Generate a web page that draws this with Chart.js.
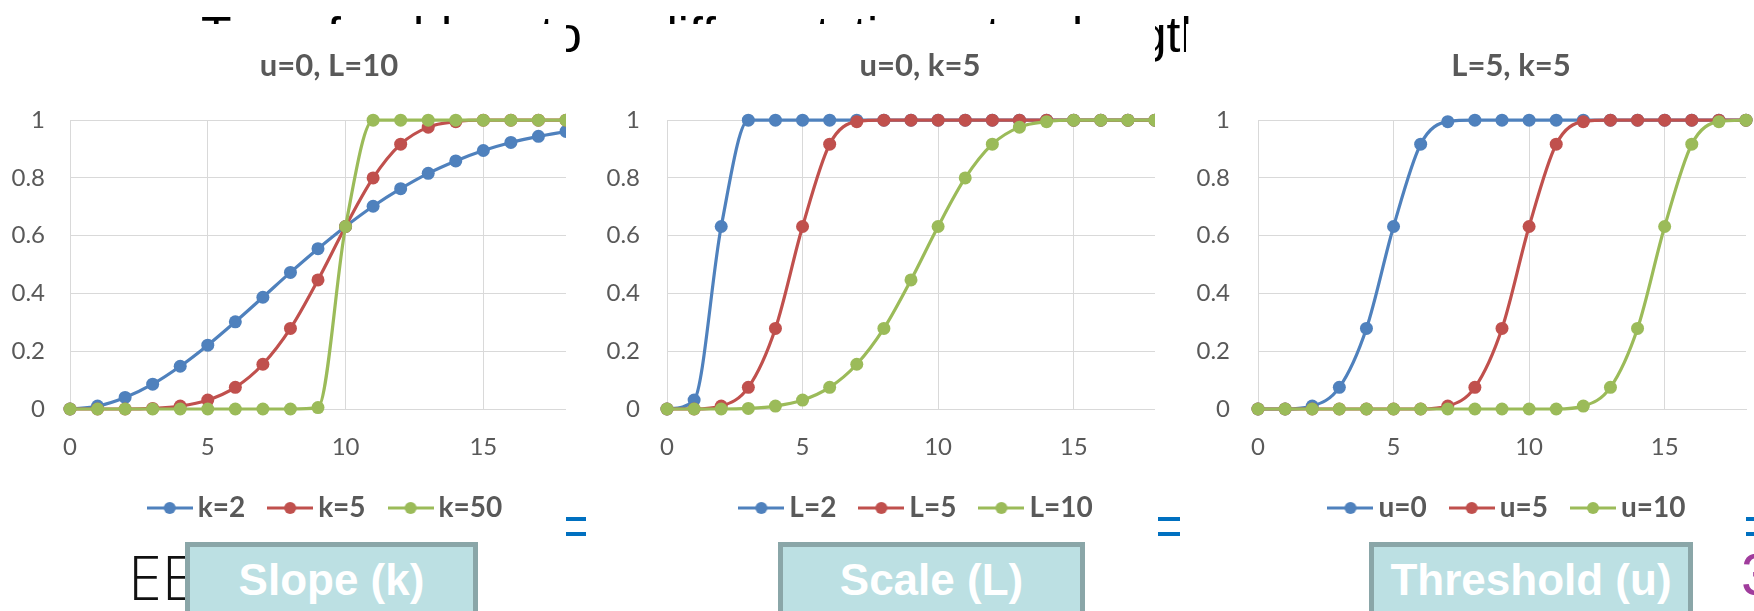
<!DOCTYPE html>
<html>
<head>
<meta charset="utf-8">
<script src="https://cdn.jsdelivr.net/npm/chart.js@4/dist/chart.umd.min.js"></script>
<style>
body { margin:0; width:1754px; height:611px; overflow:hidden; background:#fff; position:relative; font-family:"Liberation Sans", Arial, sans-serif; }
.word { position:absolute; top:10px; font-size:50px; line-height:50px; color:#000; white-space:nowrap; }
.box { position:absolute; top:24px; height:508px; overflow:hidden; background:#fff; z-index:1; }
.box canvas { position:absolute; left:0; top:0; }
.eq { position:absolute; height:4px; background:#0070C0; z-index:2; }
.tag { position:absolute; top:542px; height:100px; box-sizing:border-box; border:5px solid #8AA6A8; background:#BCE0E3; color:#fff; font-weight:bold; font-size:44px; line-height:50px; padding-top:8px; text-align:center; z-index:3; white-space:nowrap; }
.ee { position:absolute; left:128px; top:537px; font-family:"Open Sans", sans-serif; font-weight:300; font-size:61px; line-height:80px; color:#111; z-index:2; }
.num { position:absolute; left:1741px; top:540px; font-size:60px; line-height:70px; color:#A03C9C; z-index:2; }
</style>
</head>
<body>

<!-- slide title, mostly hidden behind the charts -->
<div class="word" style="left:201px">Transferable</div>
<div class="word" style="left:540px">to</div>
<div class="word" style="left:650px">different</div>
<div class="word" style="left:853px">time</div>
<div class="word" style="left:961px">step</div>
<div class="word" style="left:1072px">length</div>

<div class="box" style="left:0px; width:566px"><canvas id="slopeChart" width="658" height="508"></canvas></div>
<div class="box" style="left:583px; width:572px"><canvas id="scaleChart" width="674" height="508"></canvas></div>
<div class="box" style="left:1186px; width:568px"><canvas id="thresholdChart" width="650" height="508"></canvas></div>

<div class="eq" style="left:566px; top:517px; width:20px"></div>
<div class="eq" style="left:566px; top:532px; width:20px"></div>
<div class="eq" style="left:1158px; top:517px; width:22px"></div>
<div class="eq" style="left:1158px; top:532px; width:22px"></div>
<div class="eq" style="left:1746px; top:517px; width:8px"></div>
<div class="eq" style="left:1746px; top:532px; width:8px"></div>

<div class="ee">EE</div>
<div class="num">3</div>

<div class="tag" style="left:185px; width:293px">Slope (k)</div>
<div class="tag" style="left:778px; width:307px">Scale (L)</div>
<div class="tag" style="left:1369px; width:324px">Threshold (u)</div>

<script>

// x values shared by all three charts. 
const xs = [0, 1, 2, 3, 4, 5, 6, 7, 8, 9, 10, 11, 12, 13, 14, 15, 16, 17, 18];

// Chart 1: u=0, L=10, varying slope k. 
const slopeNames = ['k=2', 'k=5', 'k=50'];
const k2  = [0, 0.01, 0.04, 0.086, 0.148, 0.221, 0.302, 0.387, 0.473, 0.555, 0.632, 0.702, 0.763, 0.816, 0.859, 0.895, 0.923, 0.944, 0.961];
const k5  = [0, 0, 0, 0.002, 0.01, 0.031, 0.075, 0.155, 0.279, 0.447, 0.632, 0.8, 0.917, 0.976, 0.995, 1, 1, 1, 1];
const k50 = [0, 0, 0, 0, 0, 0, 0, 0, 0, 0.005, 0.632, 1, 1, 1, 1, 1, 1, 1, 1];

// Chart 2: u=0, k=5, varying scale L. 
const scaleNames = ['L=2', 'L=5', 'L=10'];
const L2  = [0, 0.031, 0.632, 1, 1, 1, 1, 1, 1, 1, 1, 1, 1, 1, 1, 1, 1, 1, 1];
const L5  = [0, 0, 0.01, 0.075, 0.279, 0.632, 0.917, 0.995, 1, 1, 1, 1, 1, 1, 1, 1, 1, 1, 1];
const L10 = [0, 0, 0, 0.002, 0.01, 0.031, 0.075, 0.155, 0.279, 0.447, 0.632, 0.8, 0.917, 0.976, 0.995, 1, 1, 1, 1];

// Chart 3: L=5, k=5, varying threshold u. 
const thresholdNames = ['u=0', 'u=5', 'u=10'];
const u0  = [0, 0, 0.01, 0.075, 0.279, 0.632, 0.917, 0.995, 1, 1, 1, 1, 1, 1, 1, 1, 1, 1, 1];
const u5  = [0, 0, 0, 0, 0, 0, 0, 0.01, 0.075, 0.279, 0.632, 0.917, 0.995, 1, 1, 1, 1, 1, 1];
const u10 = [0, 0, 0, 0, 0, 0, 0, 0, 0, 0, 0, 0, 0.01, 0.075, 0.279, 0.632, 0.917, 0.995, 1];

// Tick labels. 
const xTicks = [0, 5, 10, 15];
const yTicks = [0, 0.2, 0.4, 0.6, 0.8, 1];

// Series colours (blue, red, green). 
const colors = ['#4F81BD', '#C0504D', '#9BBB59'];
const grey = '#595959';
const gridGrey = '#D9D9D9';


/*****/


// Line with a dot in the middle, used as legend marker. 
function legendMark(color) {
	const c = document.createElement('canvas');
	c.width = 46;
	c.height = 14;
	const g = c.getContext('2d');
	g.strokeStyle = color;
	g.lineWidth = 3;
	g.beginPath();
	g.moveTo(0, 7);
	g.lineTo(46, 7);
	g.stroke();
	g.fillStyle = color;
	g.beginPath();
	g.arc(23, 7, 6, 0, Math.PI * 2);
	g.fill();
	return c;
}

function makeChart(id, title, names, series, yWidth, yPad, rightPad) {

	// Build one dataset per series; last one is drawn on top. 
	const datasets = series.map((ys, i) => ({
		label: names[i],
		data: xs.map((x, j) => ({x: x, y: ys[j]})),
		borderColor: colors[i],
		backgroundColor: colors[i],
		borderWidth: 3.2,
		pointRadius: 6.5,
		pointBorderWidth: 0,
		pointBackgroundColor: colors[i],
		cubicInterpolationMode: 'monotone',
		clip: false,
		order: series.length - 1 - i,
		xAxisID: 'x',
		yAxisID: 'y'
	}));

	new Chart(document.getElementById(id), {
		type: 'line',
		data: {datasets: datasets},
		options: {
			responsive: false,
			animation: false,
			plugins: {
				title: {
					display: true,
					text: title,
					color: grey,
					font: {family: 'Lato', size: 31, weight: 'bold'},
					padding: {top: 23, bottom: 36}
				},
				legend: {
					position: 'bottom',
					labels: {
						usePointStyle: true,
						pointStyleWidth: 28,
						padding: 31,
						color: grey,
						font: {family: 'Lato', size: 28, weight: 'bold'},
						generateLabels: (chart) => chart.data.datasets.map((ds, i) => ({
							text: ds.label,
							fillStyle: ds.borderColor,
							strokeStyle: ds.borderColor,
							lineWidth: 0,
							pointStyle: legendMark(ds.borderColor),
							fontColor: grey,
							hidden: false,
							datasetIndex: i
						}))
					}
				},
				tooltip: {enabled: false}
			},
			scales: {
				x: {
					type: 'linear',
					min: 0,
					max: 18,
					afterBuildTicks: (s) => { s.ticks = xTicks.map(v => ({value: v})); },
					ticks: {padding: 24, color: grey, font: {family: 'Lato', size: 24}},
					grid: {color: gridGrey, drawTicks: false},
					border: {color: gridGrey},
					afterFit: (s) => { s.height = 54; }
				},
				y: {
					type: 'linear',
					min: 0,
					max: 1,
					afterBuildTicks: (s) => { s.ticks = yTicks.map(v => ({value: v})); },
					ticks: {padding: yPad, color: grey, font: {family: 'Lato', size: 24}, callback: (v) => String(v)},
					grid: {color: gridGrey, drawTicks: false},
					border: {color: gridGrey},
					afterFit: (s) => { s.width = yWidth; }
				},
				// Empty axis that only reserves the cropped right part. 
				pad: {
					type: 'linear',
					position: 'right',
					ticks: {display: false},
					grid: {display: false},
					border: {display: false},
					afterFit: (s) => { s.width = rightPad; }
				}
			}
		}
	});
}

makeChart('slopeChart', 'u=0, L=10', slopeNames, [k2, k5, k50], 70, 25, 92);
makeChart('scaleChart', 'u=0, k=5', scaleNames, [L2, L5, L10], 84, 27, 102);
makeChart('thresholdChart', 'L=5, k=5', thresholdNames, [u0, u5, u10], 72, 28, 90);

</script>
</body>
</html>
